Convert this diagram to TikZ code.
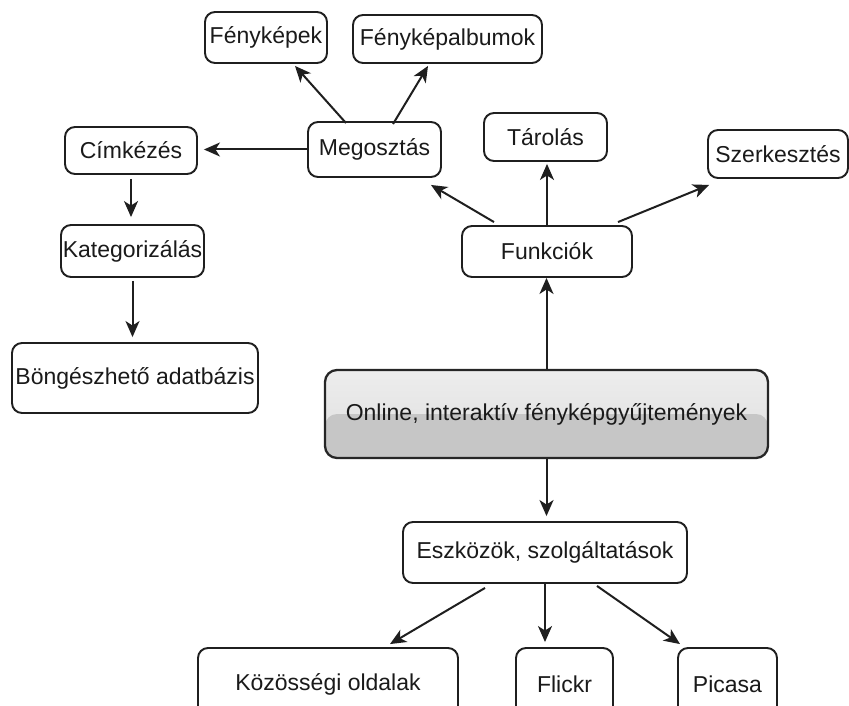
\documentclass[tikz,border=0pt]{standalone}
\usepackage{fontspec}
\setmainfont{Liberation Sans}
\usetikzlibrary{arrows.meta,calc}
\definecolor{edge}{HTML}{1F1F1F}
\definecolor{ink}{HTML}{1A1A1A}
\definecolor{glasstop}{HTML}{EDEDED}
\definecolor{glassmid}{HTML}{DEDEDE}
\definecolor{glasslow}{HTML}{C6C6C6}
\begin{document}
\begin{tikzpicture}[x=1pt,y=-1pt,
  box/.style={draw=edge, line width=1.9pt, rounded corners=10pt, fill=white,
    inner sep=0pt, text=ink, font=\fontsize{23}{27}\selectfont},
  central/.style={box, line width=2.3pt, draw=black!85, rounded corners=12pt,
    top color=glasstop, bottom color=glassmid,
    path picture={\fill[glasslow] (path picture bounding box.west) rectangle (path picture bounding box.south east);}},
  link/.style={draw=edge, line width=2pt, -{Stealth[length=16pt,width=14pt,inset=4.5pt]}},
]
\useasboundingbox (0,0) rectangle (849,706);
\clip (0,0) rectangle (849,706);

% central topic
\node[central, minimum width=443pt, minimum height=88pt] (C) at (546.5,414) {Online, interaktív fényképgyűjtemények};

% upper branch
\node[box, minimum width=170pt, minimum height=51pt] (F) at (547,251.5) {Funkciók};
\node[box, minimum width=123pt, minimum height=48pt] (T) at (545.5,137) {Tárolás};
\node[box, minimum width=140pt, minimum height=48pt] (Sz) at (778,154) {Szerkesztés};
\node[box, minimum width=133pt, minimum height=55pt] (M) at (374.5,149.5) {Megosztás};
\node[box, minimum width=122pt, minimum height=51pt] (Fk) at (266,37.5) {Fényképek};
\node[box, minimum width=189pt, minimum height=48pt] (Fa) at (447.5,39) {Fényképalbumok};
\node[box, minimum width=132pt, minimum height=47pt] (Ci) at (131,150.5) {Címkézés};
\node[box, minimum width=143pt, minimum height=52pt] (Ka) at (132.5,251) {Kategorizálás};
\node[box, minimum width=246pt, minimum height=70pt] (B) at (135,378) {Böngészhető adatbázis};

% lower branch
\node[box, minimum width=284pt, minimum height=61pt] (E) at (545,552.5) {Eszközök, szolgáltatások};
\node[box, minimum width=260pt, minimum height=72pt] (K) at (328,684) {Közösségi oldalak};
\node[box, minimum width=97pt, minimum height=72pt] (Fl) at (564.5,684) {Flickr};
\node[box, minimum width=99pt, minimum height=72pt] (P) at (727.5,684) {Picasa};

% connectors
\draw[link] (C.north) -- (C.north |- F.south);
\draw[link, shorten >=2pt] (F.north) -- (F.north |- T.south);
\draw[link] ($(F.north)+(-53,-3)$) -- ($(M.south east)+(-11,7)$);
\draw[link] ($(F.north)+(71,-3)$) -- ($(Sz.south west)+(2,6)$);
\draw[link, shorten >=6pt] (M.west) -- (M.west -| Ci.east);
\draw[link] ($(M.north)+(-28.5,2)$) -- ($(Fk.south)+(29,2)$);
\draw[link] ($(M.north)+(18.5,3)$) -- ($(Fa.south)+(-19.5,2)$);
\draw[link, shorten <=4pt, shorten >=7pt] (Ci.south) -- (Ci.south |- Ka.north);
\draw[link, shorten <=3pt, shorten >=5pt] (Ka.south) -- (Ka.south |- B.north);
\draw[link, shorten >=5pt] (C.south) -- (C.south |- E.north);
\draw[link] ($(E.south)+(-60,4)$) -- ($(K.north)+(62,-3)$);
\draw[link, shorten >=5pt] (E.south) -- (E.south |- Fl.north);
\draw[link] ($(E.south)+(52,2)$) -- ($(P.north)+(-47.5,-3)$);
\end{tikzpicture}
\end{document}
